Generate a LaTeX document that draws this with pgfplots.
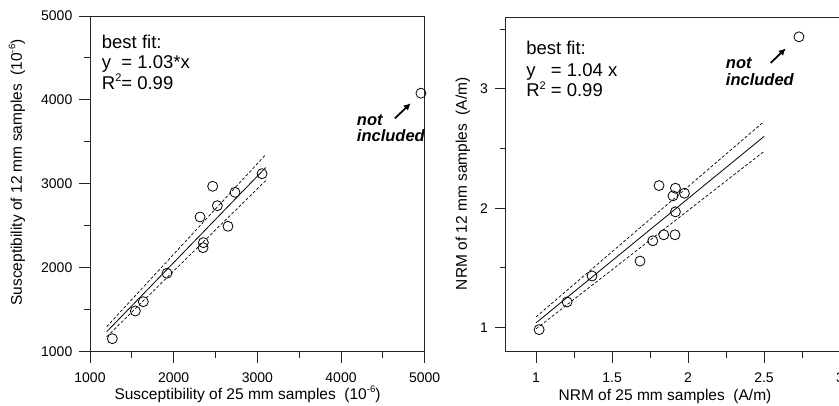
\documentclass[border=0pt]{standalone}
\usepackage{fontspec}
\setmainfont{Liberation Sans}
\usepackage{pgfplots}
\pgfplotsset{compat=1.18}
\usetikzlibrary{arrows.meta}

% small raised text for exponents
\newcommand{\rsup}[2]{\raisebox{0.42em}{\fontsize{#1}{#1}\selectfont #2}}

\pgfplotsset{
  panel/.style={
    scale only axis, clip=false,
    axis line style={line width=0.9pt, black!85},
    tick align=outside, xtick pos=bottom, ytick pos=left,
    major tick length=11pt, minor tick length=6pt,
    every tick/.style={line width=0.9pt, black!85},
    tick label style={font=\fontsize{14}{16}\selectfont, inner sep=0pt},
    yticklabel style={anchor=east, xshift=-6.5pt},
    xticklabel style={anchor=north, yshift=-10pt},
    label style={font=\fontsize{15.5}{18}\selectfont},
    /pgf/number format/assume math mode=true,
    /pgf/number format/1000 sep={},
    scaled ticks=false,
  },
  fitline/.style={black, line width=0.8pt},
  bandline/.style={black, line width=0.7pt, dash pattern=on 3pt off 2pt},
  pts/.style={only marks, mark=o, mark size=5pt, mark options={line width=0.8pt, black}},
}
\tikzset{
  big/.style={font=\fontsize{18.5}{20}\selectfont, anchor=base west, inner sep=0pt},
  note/.style={font=\fontsize{16.5}{18}\selectfont\bfseries\itshape, anchor=base west, inner sep=0pt},
}

\begin{document}
\begin{tikzpicture}

% susceptibility
\begin{axis}[panel,
    at={(90pt,-351.5pt)}, anchor=south west,
    width=334.7pt, height=335.5pt,
    xmin=1000, xmax=5000, ymin=1000, ymax=5000,
    xtick={1000,2000,3000,4000,5000}, minor xtick={1500,2500,3500,4500},
    ytick={1000,2000,3000,4000,5000}, minor ytick={1500,2500,3500,4500},
    xlabel={Susceptibility of 25 mm samples\ \ (10\rsup{9.5}{-6})},
    ylabel={Susceptibility of 12 mm samples\ \ (10\rsup{9.5}{-6})},
    xlabel style={at={(axis description cs:0.4706,-0.1416)}, anchor=base},
    ylabel style={at={(axis description cs:-0.2032,0.5335)}, anchor=base},
]
\addplot[bandline] coordinates {(1200,1296) (3100,3348)};
\addplot[fitline] coordinates {(1200,1236) (3100,3193)};
\addplot[bandline] coordinates {(1200,1176) (3100,3038)};
\addplot[pts] coordinates {
  (1267,1153) (1542,1483) (1637,1594) (1920,1933) (2315,2604) (2355,2298)
  (2351,2238) (2466,2970) (2522,2739) (2649,2493) (2733,2898) (3056,3120)
  (4955,4080)
};
\node[big] at (axis cs:1140,4608) {best fit:};
\node[big] at (axis cs:1140,4369) {y\ \ = 1.03*x};
\node[big] at (axis cs:1140,4125) {R\rsup{11}{2}= 0.99};
\node[note] at (axis cs:4188,3693) {not};
\node[note] at (axis cs:4188,3502) {included};
\draw[line width=1.8pt, -{Latex[length=7pt,width=7pt]}] (axis cs:4645,3781) -- (axis cs:4833,3960);
\end{axis}

% NRM
\begin{axis}[panel,
    at={(505.7pt,-351.5pt)}, anchor=south west,
    width=334.3pt, height=334.5pt,
    xmin=0.8, xmax=3, ymin=0.8, ymax=3.6,
    xtick={1,1.5,2,2.5,3}, minor xtick={1.25,1.75,2.25,2.75},
    ytick={1,2,3}, minor ytick={1.5,2.5,3.5},
    xlabel={NRM of 25 mm samples\ \ (A/m)},
    ylabel={NRM of 12 mm samples\ \ (A/m)},
    xlabel style={at={(axis description cs:0.4765,-0.145)}, anchor=base},
    ylabel style={at={(axis description cs:-0.1158,0.5017)}, anchor=base},
]
\addplot[bandline] coordinates {(1.0,1.09) (2.5,2.725)};
\addplot[fitline] coordinates {(1.0,1.04) (2.5,2.6)};
\addplot[bandline] coordinates {(1.0,0.99) (2.5,2.475)};
\addplot[pts] coordinates {
  (1.020,0.983) (1.204,1.215) (1.368,1.432) (1.684,1.557) (1.768,1.727)
  (1.840,1.777) (1.914,1.777) (1.917,1.969) (1.901,2.103) (1.917,2.167)
  (1.976,2.125) (1.809,2.189) (2.730,3.434)
};
\node[big] at (axis cs:0.934,3.287) {best fit:};
\node[big] at (axis cs:0.934,3.105) {y\ \ \ = 1.04 x};
\node[big] at (axis cs:0.934,2.932) {R\rsup{11}{2} = 0.99};
\node[note] at (axis cs:2.248,3.172) {not};
\node[note] at (axis cs:2.248,3.030) {included};
\draw[line width=1.8pt, -{Latex[length=7pt,width=7pt]}] (axis cs:2.544,3.216) -- (axis cs:2.643,3.337);
\end{axis}

\pgfresetboundingbox
\path[use as bounding box] (0pt,0pt) rectangle (839pt,-405pt);
\end{tikzpicture}
\end{document}
